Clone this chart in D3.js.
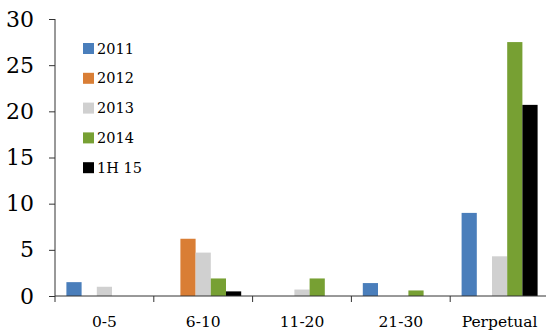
<!DOCTYPE html>
<html>
<head>
<meta charset="utf-8">
<script src="https://cdn.jsdelivr.net/npm/d3@7"></script>
<style>
  html, body { margin: 0; padding: 0; background: #fff; }
  svg { display: block; }
  text { font-family: "DejaVu Serif", serif; fill: #000; }
</style>
</head>
<body>
<svg id="chart" width="546" height="333"></svg>
<script>
// Maturity buckets and issuance by period
const categories = ["0-5", "6-10", "11-20", "21-30", "Perpetual"];
const seriesNames = ["2011", "2012", "2013", "2014", "1H 15"];
const seriesColors = ["#4A7EBB", "#D97E35", "#D0D0D0", "#77A033", "#000000"];
const values2011 = [1.5, 0, 0, 1.4, 9.0];
const values2012 = [0, 6.2, 0, 0, 0];
const values2013 = [1.0, 4.7, 0.7, 0, 4.3];
const values2014 = [0, 1.9, 1.9, 0.6, 27.5];
const values1H15 = [0, 0.5, 0, 0, 20.7];
const yTicks = [0, 5, 10, 15, 20, 25, 30];

const seriesValues = [values2011, values2012, values2013, values2014, values1H15];

const svg = d3.select("#chart");
const plotLeft = 55, plotRight = 549, plotTop = 19, plotBottom = 296;

const x = d3.scaleBand().domain(categories).range([plotLeft, plotRight]).padding(0);
const xs = d3.scaleBand().domain(seriesNames).range([0, x.bandwidth()])
  .paddingInner(0).paddingOuter(0.75);
const y = d3.scaleLinear().domain([0, 30]).range([plotBottom, plotTop]);

// bars
const rows = [];
categories.forEach((c, ci) => {
  seriesNames.forEach((s, si) => {
    const v = seriesValues[si][ci];
    if (v > 0) rows.push({ c, s, v, color: seriesColors[si] });
  });
});
svg.append("g").selectAll("rect").data(rows).join("rect")
  .attr("x", d => x(d.c) + xs(d.s))
  .attr("width", xs.bandwidth())
  .attr("y", d => y(d.v))
  .attr("height", d => y(0) - y(d.v))
  .attr("fill", d => d.color);

// y axis
const yAxis = svg.append("g").attr("transform", `translate(${plotLeft},0)`)
  .call(d3.axisLeft(y).tickValues(yTicks).tickSize(6).tickPadding(15).tickSizeOuter(0));
yAxis.select(".domain").attr("stroke", "#333").attr("d", `M0,${plotTop}V${plotBottom + 6}`);
yAxis.selectAll(".tick line").attr("stroke", "#333");
yAxis.selectAll(".tick text").style("font-size", "22px").attr("font-family", "DejaVu Serif");

// x axis with ticks at category boundaries
const xAxis = svg.append("g").attr("transform", `translate(0,${plotBottom})`);
xAxis.append("line").attr("x1", plotLeft).attr("x2", plotRight).attr("y1", 0).attr("y2", 0)
  .attr("stroke", "#333");
xAxis.selectAll(".bound").data(categories.slice(1)).join("line")
  .attr("class", "bound")
  .attr("x1", d => x(d)).attr("x2", d => x(d))
  .attr("y1", 0).attr("y2", 6).attr("stroke", "#333");
xAxis.selectAll(".lbl").data(categories).join("text")
  .attr("class", "lbl")
  .attr("x", d => x(d) + x.bandwidth() / 2)
  .attr("y", 31)
  .attr("text-anchor", "middle")
  .style("font-size", "15.5px")
  .text(d => d);

// legend
const legend = svg.append("g").attr("transform", "translate(83,43)");
const item = legend.selectAll("g").data(seriesNames).join("g")
  .attr("transform", (d, i) => `translate(0,${i * 29.8})`);
item.append("rect").attr("width", 11).attr("height", 11)
  .attr("fill", (d, i) => seriesColors[i]);
item.append("text").attr("x", 14).attr("y", 10.5)
  .style("font-size", "14.5px").text(d => d);
</script>
</body>
</html>
